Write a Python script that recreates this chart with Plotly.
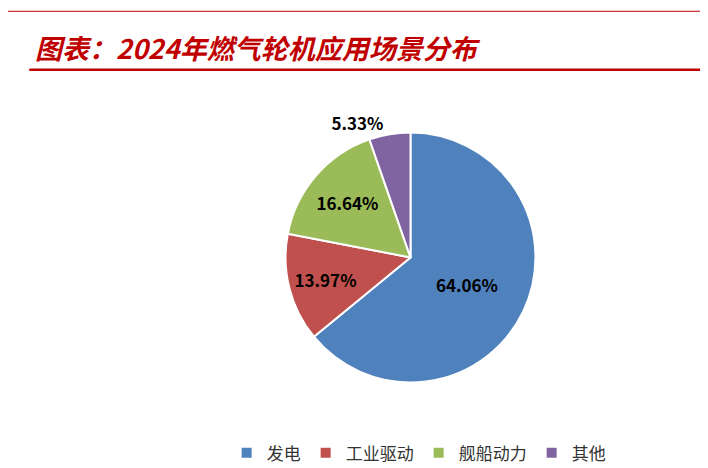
import plotly.graph_objects as go

labels = ['发电', '工业驱动', '舰船动力', '其他']
values = [64.06, 13.97, 16.64, 5.33]
colors = ['#4F81BD', '#C0504D', '#9BBB59', '#8064A2']
positions = ['inside', 'inside', 'inside', 'outside']

fig = go.Figure()
fig.add_trace(go.Pie(labels=labels, values=values, sort=False, direction='clockwise',
                     rotation=0, marker=dict(colors=colors, line=dict(color='white', width=2)),
                     texttemplate='<b>%{value:.2f}%</b>', textposition=positions,
                     textfont=dict(size=17, color='black', family='Noto Sans CJK SC'),
                     domain=dict(x=[0.392, 0.745], y=[0.2, 0.734]), hoverinfo='label+percent'))

fig.update_layout(
    width=708, height=468, margin=dict(l=0, r=0, t=0, b=0),
    paper_bgcolor='white', plot_bgcolor='white',
    font=dict(family='Noto Sans CJK SC'),
    legend=dict(orientation='h', x=0.58, xanchor='center', y=0.01, yanchor='bottom',
                font=dict(size=17, color='#333'), itemwidth=30),
    shapes=[
        dict(type='line', xref='paper', yref='paper', x0=0.03, x1=0.99, y0=0.868, y1=0.868,
             line=dict(color='#C00000', width=2.5)),
        dict(type='line', xref='paper', yref='paper', x0=0.0, x1=1.0, y0=0.993, y1=0.993,
             line=dict(color='#C00000', width=1)),
    ],
    annotations=[dict(text='<b><i>图表：2024年燃气轮机应用场景分布</i></b>', xref='paper', yref='paper',
                      x=0.035, y=0.87, xanchor='left', yanchor='bottom', showarrow=False,
                      font=dict(size=27, color='#C00000', family='Noto Sans CJK SC'))],
)

fig.write_html('out.html')
